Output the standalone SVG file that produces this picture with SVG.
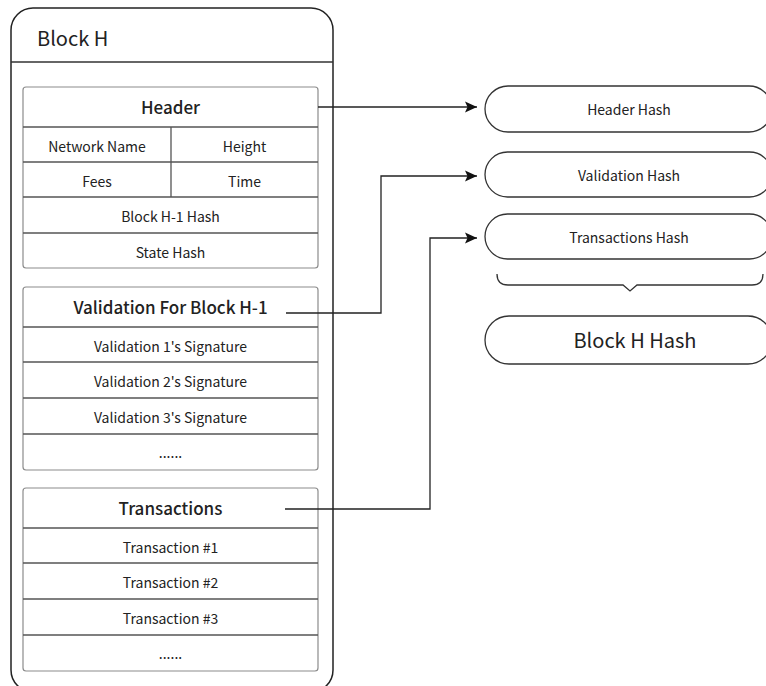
<svg xmlns="http://www.w3.org/2000/svg" width="766" height="686" viewBox="0 0 766 686">
<defs>
<style>
text{font-family:"Noto Sans CJK SC","Noto Sans",sans-serif;fill:#222;text-anchor:middle;}
.row{font-size:14px;}
.sec{font-size:17px;font-weight:500;}
.box{fill:#fff;stroke:#8c8c8c;stroke-width:1.2;}
.div{stroke:#555;stroke-width:1.3;fill:none;}
.pill{fill:#fff;stroke:#333;stroke-width:1.3;}
.conn{fill:none;stroke:#222;stroke-width:1.3;}
</style>
<marker id="arr" markerUnits="userSpaceOnUse" markerWidth="13" markerHeight="12" refX="12" refY="6" orient="auto">
<path d="M0,0.5 L12,6 L0,11.5 L2.5,6 z" fill="#111"/>
</marker>
</defs>
<rect width="766" height="686" fill="#fff"/>
<g id="blockH">
<rect x="11" y="8" width="322" height="684" rx="22" fill="#fff" stroke="#222" stroke-width="1.5"/>
<line x1="11" y1="62" x2="333" y2="62" stroke="#333" stroke-width="1.3"/>
<text x="37" y="46" style="font-size:20px;text-anchor:start">Block H</text>
</g>
<g id="header">
<rect class="box" x="23" y="87" width="295" height="181" rx="3"/>
<path class="div" d="M23,127 H318 M23,162 H318 M23,197 H318 M23,233 H318 M171,127 V197"/>
<text class="sec" x="170.5" y="114">Header</text>
<text class="row" x="97" y="151.5">Network Name</text>
<text class="row" x="244.5" y="151.5">Height</text>
<text class="row" x="97" y="186.5">Fees</text>
<text class="row" x="244.5" y="186.5">Time</text>
<text class="row" x="170.5" y="221.5">Block H-1 Hash</text>
<text class="row" x="170.5" y="257.5">State Hash</text>
</g>
<g id="validation">
<rect class="box" x="23" y="287" width="295" height="183" rx="3"/>
<path class="div" d="M23,327 H318 M23,362 H318 M23,398 H318 M23,434 H318"/>
<text class="sec" x="170.5" y="314">Validation For Block H-1</text>
<text class="row" x="170.5" y="351.5">Validation 1's Signature</text>
<text class="row" x="170.5" y="386.5">Validation 2's Signature</text>
<text class="row" x="170.5" y="422.5">Validation 3's Signature</text>
<text class="row" x="170.5" y="457.5">......</text>
</g>
<g id="transactions">
<rect class="box" x="23" y="488" width="295" height="183" rx="3"/>
<path class="div" d="M23,528 H318 M23,563 H318 M23,599 H318 M23,635 H318"/>
<text class="sec" x="170.5" y="514.5">Transactions</text>
<text class="row" x="170.5" y="552.5">Transaction #1</text>
<text class="row" x="170.5" y="587.5">Transaction #2</text>
<text class="row" x="170.5" y="623.5">Transaction #3</text>
<text class="row" x="170.5" y="658.5">......</text>
</g>
<g id="headerHash">
<rect class="pill" x="485" y="86" width="287" height="46" rx="23"/>
<text class="row" x="629" y="115">Header Hash</text>
</g>
<g id="validationHash">
<rect class="pill" x="485" y="152" width="287" height="45" rx="22.5"/>
<text class="row" x="629" y="181">Validation Hash</text>
</g>
<g id="transactionsHash">
<rect class="pill" x="485" y="214" width="287" height="45" rx="22.5"/>
<text class="row" x="629" y="243">Transactions Hash</text>
</g>
<g id="brace">
<path d="M497,274 Q497,285 508,285 H623 L630,291 L637,285 H752 Q763,285 763,274" fill="none" stroke="#333" stroke-width="1.3"/>
</g>
<g id="blockHHash">
<rect class="pill" x="485" y="316" width="287" height="48" rx="24"/>
<text x="635" y="348" style="font-size:20px">Block H Hash</text>
</g>
<g id="connectors">
<path class="conn" d="M318,107 H477" marker-end="url(#arr)"/>
<path class="conn" d="M286,313 H381 V176 H477" marker-end="url(#arr)"/>
<path class="conn" d="M285,509 H430 V238 H477" marker-end="url(#arr)"/>
</g>
</svg>
